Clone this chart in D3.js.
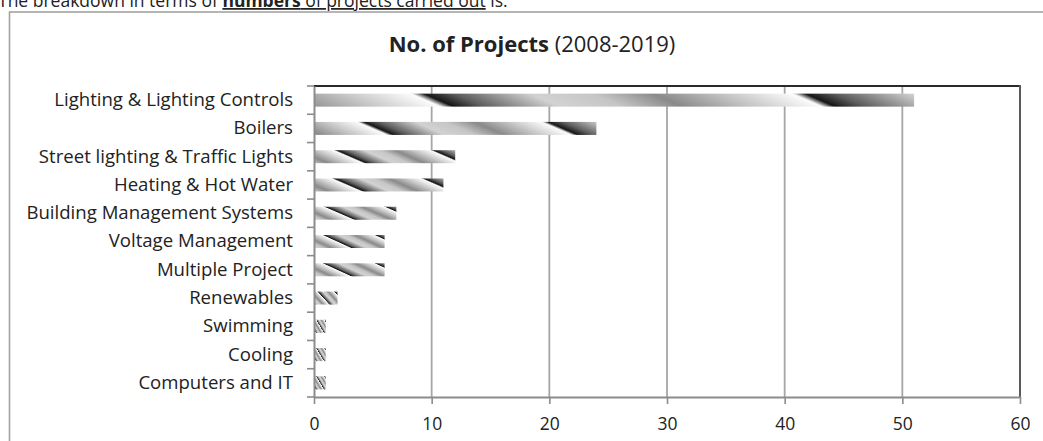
<!DOCTYPE html>
<html>
<head>
<meta charset="utf-8">
<script src="https://cdn.jsdelivr.net/npm/d3@7"></script>
<style>
  html, body { margin: 0; padding: 0; background: #fff; overflow: hidden; }
  svg { display: block; }
  text { font-family: "Open Sans", Lato, sans-serif; fill: #222; }
</style>
</head>
<body>
<svg id="chart" width="1043" height="441"></svg>
<script>
// ---- data ----
const categories = [
  "Lighting & Lighting Controls",
  "Boilers",
  "Street lighting & Traffic Lights",
  "Heating & Hot Water",
  "Building Management Systems",
  "Voltage Management",
  "Multiple Project",
  "Renewables",
  "Swimming",
  "Cooling",
  "Computers and IT"
];
const projectCounts = [51, 24, 12, 11, 7, 6, 6, 2, 1, 1, 1];
const xTicks = [0, 10, 20, 30, 40, 50, 60];
const xDomain = [0, 60];
const titleBold = "No. of Projects";
const titleRest = " (2008-2019)";

// ---- layout ----
const W = 1043, H = 441;
const plot = { left: 314, right: 1020, top: 86, bottom: 397 };
const FONT = "'Open Sans', Lato, sans-serif";
const svg = d3.select("#chart");

const x = d3.scaleLinear().domain(xDomain).range([plot.left, plot.right]);
const y = d3.scaleBand().domain(categories)
  .range([plot.top, plot.bottom])
  .paddingInner(0.54).paddingOuter(0.27);

// intro text (cropped at top in the reference)
const intro = svg.append("text").attr("x", -2).attr("y", 7)
  .style("font-size", "17.5px");
intro.append("tspan").text("The breakdown in terms of ");
intro.append("tspan").text("numbers").style("font-weight", "bold").style("text-decoration", "underline");
intro.append("tspan").text(" of projects carried out").style("text-decoration", "underline");
intro.append("tspan").text(" is:");

// outer chart frame
svg.append("rect")
  .attr("x", 9.5).attr("y", 12).attr("width", 1100).attr("height", 500)
  .attr("fill", "none").attr("stroke", "#a3a3a3").attr("stroke-width", 1.6);

// title
const title = svg.append("text")
  .attr("x", 532).attr("y", 52).attr("text-anchor", "middle")
  .style("font-size", "22px");
title.append("tspan").text(titleBold).style("font-weight", "bold");
title.append("tspan").text(titleRest);

// gridlines
svg.append("g").selectAll("line")
  .data(xTicks.filter(d => d > xDomain[0] && d < xDomain[1]))
  .join("line")
  .attr("x1", d => x(d)).attr("x2", d => x(d))
  .attr("y1", plot.top).attr("y2", plot.bottom)
  .attr("stroke", "#a6a6a6").attr("stroke-width", 1.8);

// gradients for bars
const defs = svg.append("defs");
const stops = [
  [0.00, "#161616"], [0.08, "#5e5e5e"], [0.28, "#d2d2d2"], [0.44, "#c6c6c6"],
  [0.60, "#8a8a8a"], [0.78, "#c4c4c4"], [0.965, "#fbfbfb"], [1.00, "#161616"]
];
const barH = y.bandwidth();
categories.forEach((c, i) => {
  const bx0 = x(0) + 1, bx1 = x(projectCounts[i]);
  const w = bx1 - bx0, by = y(c);
  const P = 0.62 * w + 10 * Math.min(1, w / 80);
  const shear = Math.min(30, 0.35 * w + 4);
  const L = Math.hypot(barH, shear);
  const ux = barH / L, uy = -shear / L;
  const g = P * ux;
  const cx = (bx0 + bx1) / 2;
  const x1 = cx - P / 2, y1 = by;
  const grad = defs.append("linearGradient")
    .attr("id", "g" + i)
    .attr("gradientUnits", "userSpaceOnUse")
    .attr("spreadMethod", "repeat")
    .attr("x1", x1).attr("y1", y1)
    .attr("x2", x1 + g * ux).attr("y2", y1 + g * uy);
  stops.forEach(s => grad.append("stop").attr("offset", s[0]).attr("stop-color", s[1]));
});

// bars
svg.append("g").selectAll("rect")
  .data(categories)
  .join("rect")
  .attr("x", x(0) + 1)
  .attr("y", d => y(d))
  .attr("width", (d, i) => x(projectCounts[i]) - x(0) - 1)
  .attr("height", barH)
  .attr("fill", (d, i) => `url(#g${i})`);

// plot borders: top and right
svg.append("line").attr("x1", plot.left).attr("x2", plot.right)
  .attr("y1", plot.top).attr("y2", plot.top)
  .attr("stroke", "#2a2a2a").attr("stroke-width", 2);
svg.append("line").attr("x1", plot.right).attr("x2", plot.right)
  .attr("y1", plot.top - 1).attr("y2", plot.bottom)
  .attr("stroke", "#5a5a5a").attr("stroke-width", 2);

// x axis
const xAxis = svg.append("g")
  .attr("transform", `translate(0,${plot.bottom})`)
  .call(d3.axisBottom(x).tickValues(xTicks).tickSize(7).tickPadding(14).tickSizeOuter(0));
xAxis.select(".domain").attr("stroke", "#8c8c8c").attr("stroke-width", 2);
xAxis.selectAll(".tick line").attr("stroke", "#8c8c8c").attr("stroke-width", 1.6);
xAxis.selectAll(".tick text").style("font-size", "17.5px").attr("fill", "#222")
  .style("font-family", FONT);

// y axis
const yAxis = svg.append("g")
  .attr("transform", `translate(${plot.left},0)`)
  .call(d3.axisLeft(y).tickSize(0).tickPadding(21).tickSizeOuter(0));
yAxis.select(".domain").attr("stroke", "#8c8c8c").attr("stroke-width", 2);
yAxis.selectAll(".tick text").style("font-size", "18.6px").attr("fill", "#222")
  .style("font-family", FONT);

// y tick marks at band boundaries
const step = y.step();
const boundaries = d3.range(categories.length + 1).map(k => plot.top + k * step);
svg.append("g").selectAll("line")
  .data(boundaries)
  .join("line")
  .attr("x1", plot.left - 7).attr("x2", plot.left)
  .attr("y1", d => d).attr("y2", d => d)
  .attr("stroke", "#8c8c8c").attr("stroke-width", 1.6);
</script>
</body>
</html>
